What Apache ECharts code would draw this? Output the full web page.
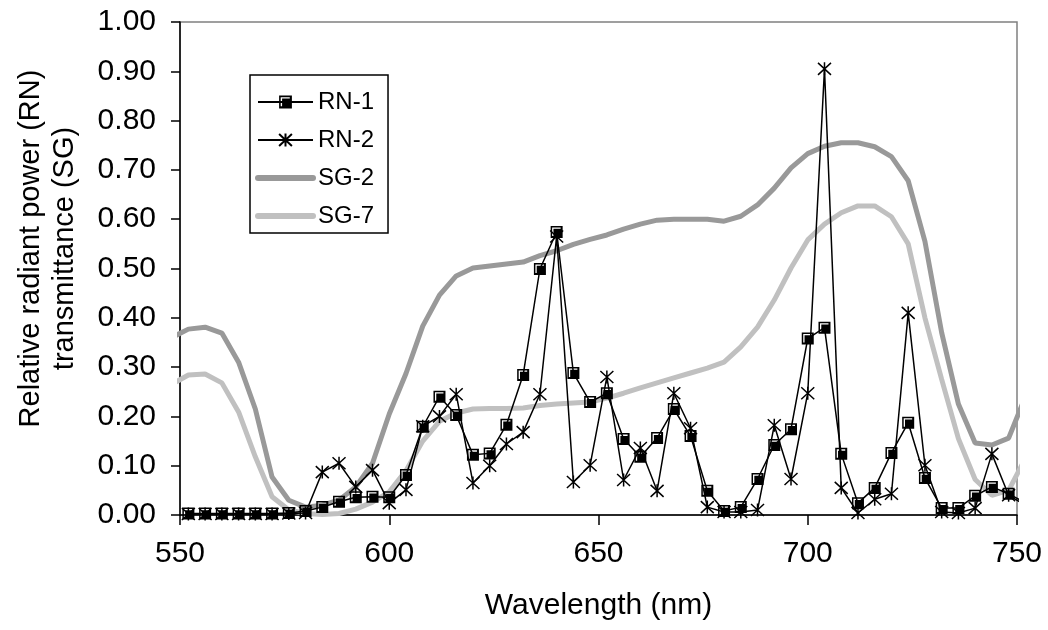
<!DOCTYPE html>
<html>
<head>
<meta charset="utf-8">
<script src="https://cdn.jsdelivr.net/npm/echarts@6/dist/echarts.min.js"></script>
<style>
html,body{margin:0;padding:0;background:#fff;}
#chart{width:1048px;height:630px;}
</style>
</head>
<body>
<div id="chart"></div>
<script>
// Wavelengths (nm) for the RN series (every 4 nm)
var rnWavelengths = [552,556,560,564,568,572,576,580,584,588,592,596,600,604,608,612,616,620,624,628,632,636,640,644,648,652,656,660,664,668,672,676,680,684,688,692,696,700,704,708,712,716,720,724,728,732,736,740,744,748,752];
var rn1 = [0.003,0.003,0.003,0.003,0.003,0.003,0.004,0.008,0.016,0.027,0.036,0.037,0.036,0.081,0.179,0.240,0.203,0.122,0.125,0.183,0.284,0.499,0.574,0.288,0.229,0.247,0.154,0.118,0.156,0.215,0.160,0.049,0.008,0.016,0.073,0.142,0.174,0.358,0.380,0.124,0.024,0.055,0.126,0.187,0.075,0.014,0.014,0.039,0.057,0.043,0.025];
var rn2 = [0.002,0.002,0.002,0.002,0.002,0.002,0.003,0.004,0.087,0.105,0.057,0.091,0.024,0.051,0.180,0.200,0.245,0.065,0.100,0.144,0.168,0.245,0.565,0.067,0.101,0.280,0.071,0.136,0.049,0.247,0.176,0.016,0.006,0.006,0.010,0.182,0.073,0.247,0.905,0.055,0.004,0.032,0.043,0.410,0.101,0.006,0.004,0.014,0.124,0.040,0.020];
// Wavelengths (nm) for the SG transmittance curves
var sgWavelengths = [548,552,556,560,564,568,572,576,580,584,588,592,596,600,604,608,612,616,620,624,628,632,636,640,644,648,652,656,660,664,668,672,676,680,684,688,692,696,700,704,708,712,716,720,724,728,732,736,740,744,748,752];
var sg2 = [0.360,0.377,0.381,0.369,0.310,0.215,0.077,0.030,0.016,0.020,0.030,0.057,0.105,0.205,0.287,0.383,0.446,0.485,0.501,0.505,0.509,0.513,0.526,0.536,0.549,0.559,0.568,0.580,0.590,0.598,0.600,0.600,0.600,0.596,0.606,0.629,0.663,0.704,0.733,0.748,0.755,0.755,0.747,0.727,0.678,0.555,0.370,0.225,0.146,0.142,0.156,0.240];
var sg7 = [0.265,0.284,0.286,0.268,0.209,0.118,0.037,0.010,0.003,0.001,0.003,0.012,0.026,0.047,0.090,0.150,0.190,0.207,0.215,0.216,0.216,0.217,0.222,0.225,0.227,0.229,0.237,0.247,0.258,0.268,0.278,0.288,0.298,0.310,0.341,0.381,0.436,0.501,0.558,0.590,0.613,0.627,0.627,0.605,0.550,0.400,0.275,0.155,0.072,0.040,0.050,0.115];
var seriesNames = ['RN-1','RN-2','SG-2','SG-7'];
var xTicks = {min:550, max:750, interval:50};
var yTicks = {min:0, max:1, interval:0.1};

function pairs(xs, ys){ return xs.map(function(x,i){ return [x, ys[i]]; }); }

var FONT = '"Liberation Sans", Arial, sans-serif';
var squareSym = 'path://M0,0L12,0L12,12L0,12Z M1.5,1.5L1.5,10L2.8,10L2.8,2.8L10,2.8L10,1.5Z';
var starSym = 'path://M0,0L12,12M0,12L12,0M6,-0.5L6,12.5';
var SG2C = '#999999', SG7C = '#c0c0c0';

var chart = echarts.init(document.getElementById('chart'), null, {renderer:'canvas'});
chart.setOption({
  animation:false,
  backgroundColor:'#fff',
  textStyle:{fontFamily:FONT, color:'#000'},
  grid:{left:180, right:31, top:22, bottom:115, show:true, borderColor:'#808080', borderWidth:1.5},
  legend:{
    data:[
      {name:seriesNames[0]},
      {name:seriesNames[1]},
      {name:seriesNames[2], itemStyle:{color:'rgba(0,0,0,0)', borderWidth:0, opacity:0}, lineStyle:{color:SG2C, width:6, cap:'round'}},
      {name:seriesNames[3], itemStyle:{color:'rgba(0,0,0,0)', borderWidth:0, opacity:0}, lineStyle:{color:SG7C, width:6, cap:'round'}}
    ],
    orient:'vertical', left:250, top:75,
    backgroundColor:'#fff', borderColor:'#000', borderWidth:1.5,
    padding:[15,14,5,5],
    itemWidth:55, itemHeight:16, itemGap:14,
    textStyle:{fontSize:24, fontFamily:FONT, color:'#000'}
  },
  xAxis:{
    type:'value', min:xTicks.min, max:xTicks.max, interval:xTicks.interval,
    name:'Wavelength (nm)', nameLocation:'middle', nameGap:76,
    nameTextStyle:{fontSize:30, fontFamily:FONT, color:'#000'},
    axisLine:{lineStyle:{color:'#000', width:1.5}},
    axisTick:{show:true, inside:false, length:10, lineStyle:{color:'#000', width:1.5}},
    axisLabel:{fontSize:30, fontFamily:FONT, color:'#000', margin:24},
    splitLine:{show:false}
  },
  yAxis:{
    type:'value', min:yTicks.min, max:yTicks.max, interval:yTicks.interval,
    name:'Relative radiant power (RN)\ntransmittance (SG)', nameLocation:'middle', nameGap:98, nameRotate:90,
    nameTextStyle:{fontSize:29, fontFamily:FONT, color:'#000', lineHeight:34, padding:[0,0,0,40]},
    axisLine:{show:true, lineStyle:{color:'#000', width:1.5}},
    axisTick:{show:true, inside:false, length:9, lineStyle:{color:'#000', width:1.5}},
    axisLabel:{fontSize:30, fontFamily:FONT, color:'#000', margin:24, formatter:function(v){return v.toFixed(2);}},
    splitLine:{show:false}
  },
  series:[
    {name:seriesNames[0], type:'line', z:4, data:pairs(rnWavelengths, rn1),
     symbol:squareSym, symbolSize:12, showAllSymbol:true,
     lineStyle:{color:'#000', width:1.5},
     itemStyle:{color:'#000', borderWidth:0}},
    {name:seriesNames[1], type:'line', z:3, data:pairs(rnWavelengths, rn2),
     symbol:starSym, symbolSize:13, showAllSymbol:true,
     lineStyle:{color:'#000', width:1.5},
     itemStyle:{color:'#000', borderColor:'#000', borderWidth:1.5}},
    {name:seriesNames[2], type:'line', z:2, data:pairs(sgWavelengths, sg2),
     symbol:'none', lineStyle:{color:SG2C, width:5},
     itemStyle:{color:SG2C}},
    {name:seriesNames[3], type:'line', z:2, data:pairs(sgWavelengths, sg7),
     symbol:'none', lineStyle:{color:SG7C, width:5},
     itemStyle:{color:SG7C}}
  ]
});
</script>
</body>
</html>
